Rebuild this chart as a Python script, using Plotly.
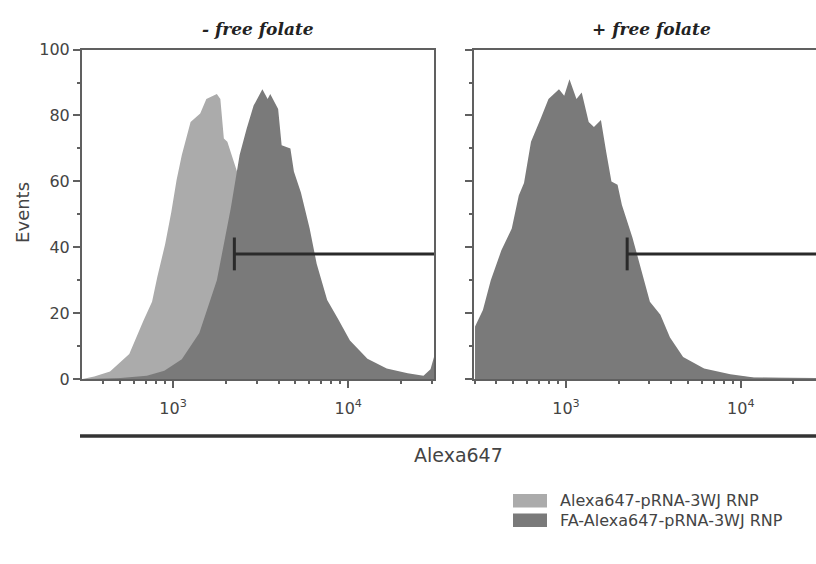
import plotly.graph_objects as go

# ---------------- data (log10 of Alexa647 intensity, events) ----------------
# Left panel: - free folate
left_light_logx = [2.48, 2.55, 2.64, 2.75, 2.83, 2.88, 2.91, 2.955, 2.99, 3.02, 3.05, 3.10,
                   3.155, 3.19, 3.25, 3.27, 3.29, 3.31, 3.365, 3.42, 3.5, 3.6, 3.7, 3.8, 3.95, 4.1, 4.49]
left_light_events = [0, 0.8, 2.3, 7.6, 17.6, 23.5, 31, 41, 50.7, 60.4, 68, 78,
                     80.6, 85, 86.5, 85, 73, 72, 63, 52, 38, 24, 12, 5, 1.5, 0.5, 0]

left_dark_logx = [2.48, 2.7, 2.85, 2.95, 3.05, 3.15, 3.25, 3.33, 3.38, 3.42, 3.46, 3.51, 3.54,
                  3.555, 3.60, 3.62, 3.67, 3.69, 3.73, 3.78, 3.82, 3.88, 3.94, 4.01, 4.11,
                  4.22, 4.34, 4.43, 4.47, 4.49]
left_dark_events = [0, 0.3, 1.0, 2.5, 6, 14, 30, 52, 68, 76, 83, 88, 85,
                    86.5, 82, 71, 70, 63, 56.6, 45.7, 35, 24, 18.5, 11.7, 6.2,
                    3.2, 1.8, 1.0, 3, 6.7]

# Right panel: + free folate
right_light_logx = [2.48, 2.525, 2.57, 2.63, 2.69, 2.73, 2.76, 2.80, 2.855, 2.90, 2.96, 2.99,
                    3.02, 3.06, 3.09, 3.13, 3.16, 3.20, 3.23, 3.26, 3.295, 3.32, 3.38,
                    3.44, 3.48, 3.54, 3.595, 3.67, 3.79, 3.94, 4.075, 4.43]
right_light_events = [15, 20, 28, 37, 44, 53, 57, 69, 77, 83, 85, 84,
                      88, 83, 84, 76, 74, 76, 67, 58, 57, 51, 41,
                      29, 22, 18, 11.5, 6, 3, 1.2, 0.4, 0.2]

right_dark_logx = [2.48, 2.525, 2.57, 2.63, 2.69, 2.73, 2.76, 2.80, 2.855, 2.90, 2.96, 2.99,
                   3.02, 3.06, 3.09, 3.13, 3.16, 3.20, 3.23, 3.26, 3.295, 3.32, 3.38,
                   3.44, 3.48, 3.54, 3.595, 3.67, 3.79, 3.94, 4.075, 4.43]
right_dark_events = [16, 21, 30, 39, 45.7, 55.7, 59.5, 72, 79, 85, 88, 86,
                     91, 85, 87, 78, 76.5, 78.6, 69, 60, 59, 52.8, 43,
                     31, 23.5, 19.5, 12.6, 6.7, 3.2, 1.5, 0.5, 0.3]

# Gate (marker) positions
gate_start = 10 ** 3.35
gate_level = 38
gate_half_height = 5

series_names = ["Alexa647-pRNA-3WJ RNP", "FA-Alexa647-pRNA-3WJ RNP"]
panel_titles = ["- free folate", "+ free folate"]
x_tick_vals = [1000, 10000]
x_tick_text = ["10<sup>3</sup>", "10<sup>4</sup>"]
y_tick_vals = [0, 20, 40, 60, 80, 100]
minor_x = [300, 400, 500, 600, 700, 800, 900, 2000, 3000, 4000, 5000, 6000, 7000,
           8000, 9000, 20000, 30000]

# ---------------- styling ----------------
LIGHT = "#ababab"
DARK = "#7a7a7a"
AXIS = "#606060"
TXT = "#444444"
FONT = "DejaVu Sans"

W, H = 816, 564
def px(x):
    return x / W
def py(y):
    return 1 - y / H

fig = go.Figure()

left_range = [2.48, 4.49]
right_range = [2.474, 4.43]

def lin(v):
    return [10 ** a for a in v]

# left panel
fig.add_trace(go.Scatter(x=lin(left_light_logx), y=left_light_events, fill="tozeroy",
                         mode="lines", line=dict(width=0, color=LIGHT), fillcolor=LIGHT,
                         name=series_names[0], showlegend=False, xaxis="x", yaxis="y"))
fig.add_trace(go.Scatter(x=lin(left_dark_logx), y=left_dark_events, fill="tozeroy",
                         mode="lines", line=dict(width=0, color=DARK), fillcolor=DARK,
                         name=series_names[1], showlegend=False, xaxis="x", yaxis="y"))
# right panel
fig.add_trace(go.Scatter(x=lin(right_light_logx), y=right_light_events, fill="tozeroy",
                         mode="lines", line=dict(width=0, color=LIGHT), fillcolor=LIGHT,
                         name=series_names[0], showlegend=False, xaxis="x2", yaxis="y2"))
fig.add_trace(go.Scatter(x=lin(right_dark_logx), y=right_dark_events, fill="tozeroy",
                         mode="lines", line=dict(width=0, color=DARK), fillcolor=DARK,
                         name=series_names[1], showlegend=False, xaxis="x2", yaxis="y2"))

# gates
for xa, ya, rng in [("x", "y", left_range), ("x2", "y2", right_range)]:
    fig.add_trace(go.Scatter(x=[gate_start, 10 ** rng[1]], y=[gate_level, gate_level],
                             mode="lines", line=dict(color="#2a2a2a", width=3),
                             showlegend=False, hoverinfo="skip", xaxis=xa, yaxis=ya))
    fig.add_trace(go.Scatter(x=[gate_start, gate_start],
                             y=[gate_level - gate_half_height, gate_level + gate_half_height],
                             mode="lines", line=dict(color="#2a2a2a", width=3),
                             showlegend=False, hoverinfo="skip", xaxis=xa, yaxis=ya))

xcommon = dict(type="log", tickvals=x_tick_vals, ticktext=x_tick_text, ticks="outside",
               ticklen=7, tickwidth=2, tickcolor=AXIS, showline=True, linecolor=AXIS,
               linewidth=1.5, showgrid=False, zeroline=False,
               tickfont=dict(family=FONT, size=16, color=TXT), ticklabelstandoff=7,
               minor=dict(ticks="outside", ticklen=3, tickcolor=AXIS, tickvals=minor_x,
                          showgrid=False))
ycommon = dict(range=[0, 100], tickvals=y_tick_vals, ticks="outside", ticklen=7,
               tickwidth=2, tickcolor=AXIS, showline=True, linecolor=AXIS, linewidth=2,
               showgrid=False, zeroline=False,
               tickfont=dict(family=FONT, size=16, color=TXT),
               minor=dict(ticks="outside", ticklen=3, tickcolor=AXIS, dtick=10,
                          showgrid=False))

fig.update_layout(
    width=W, height=H, margin=dict(l=0, r=0, t=0, b=0),
    paper_bgcolor="white", plot_bgcolor="white", showlegend=False,
    xaxis=dict(domain=[px(82), px(434)], range=left_range, anchor="y", mirror=True, **xcommon),
    yaxis=dict(domain=[py(383), py(42)], anchor="x", mirror=True, **ycommon),
    xaxis2=dict(domain=[px(474), 1.0], range=right_range, anchor="y2", mirror=True, **xcommon),
    yaxis2=dict(domain=[py(383), py(42)], anchor="x2", showticklabels=False, **ycommon),
)

def note(text, x, y, size, family=FONT, color=TXT, xanchor="center", angle=0):
    fig.add_annotation(text=text, x=px(x), y=py(y), xref="paper", yref="paper",
                       xanchor=xanchor, yanchor="middle", showarrow=False,
                       textangle=angle, font=dict(family=family, size=size, color=color))

# panel titles
for t, cx in zip(panel_titles, [258, 651]):
    note(f"<b><i>{t}</i></b>", cx, 21, 17, family="DejaVu Serif", color="#222222")

# y title
note("Events", 23, 211, 18, angle=-90)

# thick x-axis title rule and label
fig.add_shape(type="line", xref="paper", yref="paper", x0=px(80), x1=1.0,
              y0=py(442), y1=py(442), line=dict(color="#333333", width=3.5))
note("Alexa647", 458, 462, 19)

# legend (custom swatches)
for name, col, cy in zip(series_names, [LIGHT, DARK], [509, 529]):
    fig.add_shape(type="rect", xref="paper", yref="paper", x0=px(513), x1=px(547),
                  y0=py(cy + 7), y1=py(cy - 7), line=dict(width=0), fillcolor=col)
    note(name, 558, cy, 16, xanchor="left")

fig.write_html("out.html", config={"displayModeBar": False},
               post_script="document.body.style.margin='0px';"
                           "document.body.style.overflow='hidden';")
